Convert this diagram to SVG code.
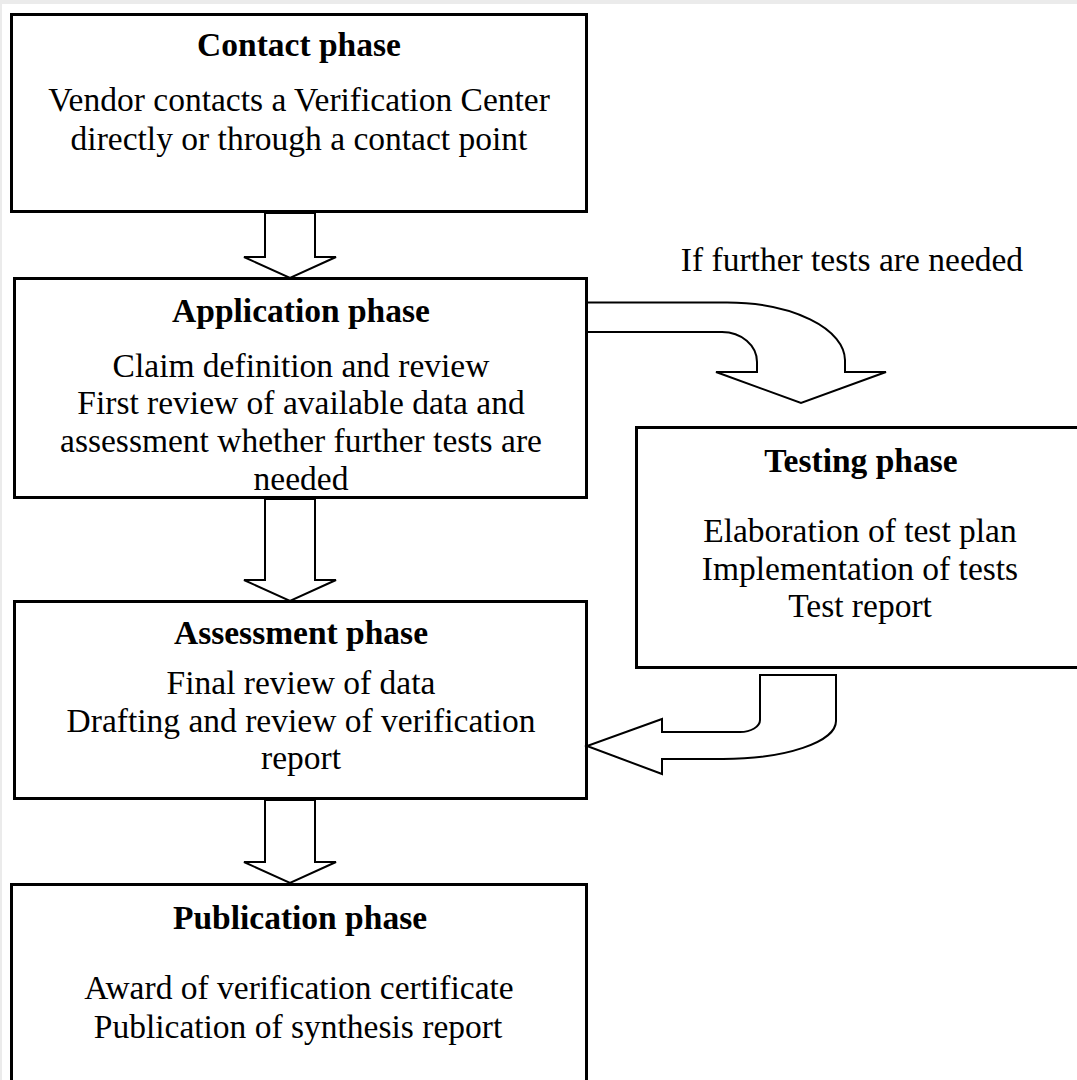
<svg xmlns="http://www.w3.org/2000/svg" width="1077" height="1080" viewBox="0 0 1077 1080">
<style>
.box{fill:#fff;stroke:#000;stroke-width:3}
.arr{fill:#fff;stroke:#000;stroke-width:2;stroke-linejoin:miter}
text{font-family:"Liberation Serif","Times New Roman",serif;font-size:33.5px;fill:#000;text-anchor:middle}
.t{font-weight:bold}
</style>
<rect x="0" y="0" width="1077" height="1080" fill="#fff"/>
<rect x="0" y="0" width="1077" height="4" fill="#ebebeb"/>
<rect x="0" y="0" width="2" height="1080" fill="#ebebeb"/>
<g id="contact">
<rect class="box" x="11.5" y="14.5" width="575" height="197"/>
<text class="t" x="299" y="56">Contact phase</text>
<text x="299" y="111">Vendor contacts a Verification Center</text>
<text x="299" y="150">directly or through a contact point</text>
</g>
<g id="application">
<rect class="box" x="14.5" y="278.5" width="572" height="219"/>
<text class="t" x="301" y="322">Application phase</text>
<text x="301" y="377">Claim definition and review</text>
<text x="301" y="414">First review of available data and</text>
<text x="301" y="452">assessment whether further tests are</text>
<text x="301" y="490">needed</text>
</g>
<g id="testing">
<rect class="box" x="636.5" y="427.5" width="460" height="240"/>
<text class="t" x="861" y="472">Testing phase</text>
<text x="860" y="542">Elaboration of test plan</text>
<text x="860" y="580">Implementation of tests</text>
<text x="860" y="617">Test report</text>
</g>
<g id="assessment">
<rect class="box" x="14.5" y="601.5" width="572" height="197"/>
<text class="t" x="301" y="644">Assessment phase</text>
<text x="301" y="694">Final review of data</text>
<text x="301" y="732">Drafting and review of verification</text>
<text x="301" y="769">report</text>
</g>
<g id="publication">
<rect class="box" x="11.5" y="884.5" width="575" height="210"/>
<text class="t" x="300" y="929">Publication phase</text>
<text x="299" y="999">Award of verification certificate</text>
<text x="298" y="1038">Publication of synthesis report</text>
</g>
<g id="connectors">
<path class="arr" d="M265,213 L315,213 L315,257 L336,257 L290,278 L244,257 L265,257 Z"/>
<path class="arr" d="M265,499 L315,499 L315,580 L336,580 L290,601 L244,580 L265,580 Z"/>
<path class="arr" d="M265,800 L315,800 L315,862 L336,862 L290,883 L244,862 L265,862 Z"/>
<path class="arr" d="M588,302.5 L727,302.5 A118,58 0 0 1 845,360 L845,372 L886,372 L801,403 L716,372 L757,372 L757,362 A35,30 0 0 0 722,332 L588,332"/>
<text x="852" y="271">If further tests are needed</text>
<path class="arr" d="M760,675 L836,675 L836,721 A113,38 0 0 1 723,759 L662,759 L662,774 L587,746 L662,719 L662,732 L740,732 A20,12 0 0 0 760,720 Z"/>
</g>
</svg>
